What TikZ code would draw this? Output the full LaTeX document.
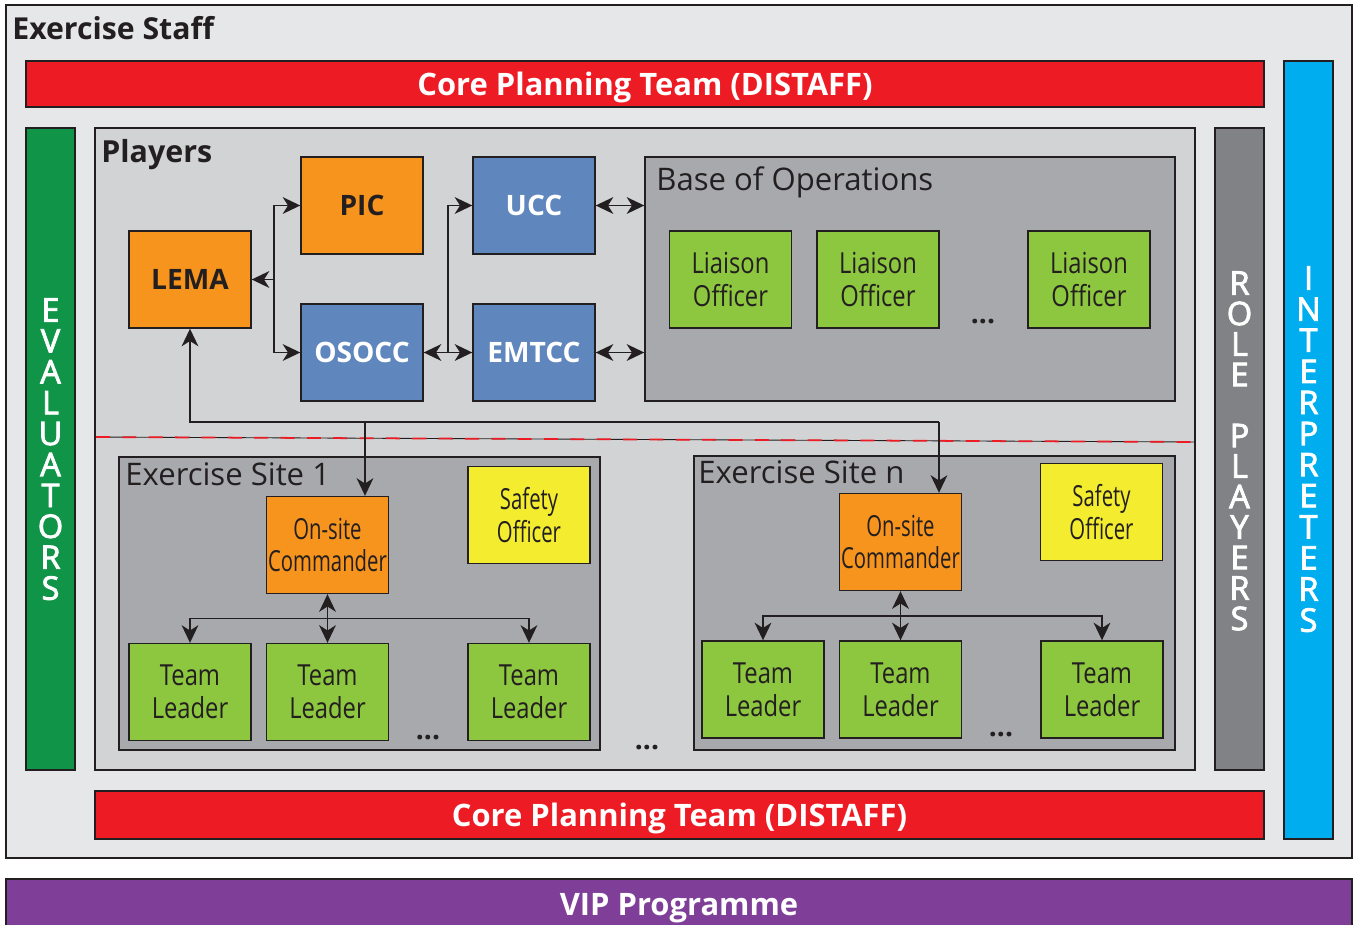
\documentclass[tikz,border=0pt]{standalone}
\usepackage{fontspec}
\setmainfont{Open Sans}
\newfontfamily\condfont[FakeStretch=0.82]{Open Sans}
\newfontfamily\narrowfont[FakeStretch=0.7]{Open Sans}
\newfontfamily\heavyfont[FakeBold=2.5]{Open Sans}
\usetikzlibrary{arrows.meta,fit}

\definecolor{ink}{HTML}{231F20}
\definecolor{staffgray}{HTML}{E6E7E8}
\definecolor{playersgray}{HTML}{D1D3D4}
\definecolor{sitegray}{HTML}{A7A9AC}
\definecolor{rolegray}{HTML}{808285}
\definecolor{corered}{HTML}{ED1C24}
\definecolor{evalgreen}{HTML}{109447}
\definecolor{interpcyan}{HTML}{00AEEF}
\definecolor{vippurple}{HTML}{7F3F98}
\definecolor{unitorange}{HTML}{F7941D}
\definecolor{unitblue}{HTML}{5F86BD}
\definecolor{unitlime}{HTML}{8DC63F}
\definecolor{safetyyellow}{HTML}{F3EC2F}

\begin{document}
\begin{tikzpicture}[x=0.02cm, y=-0.02cm,
    >={Stealth[length=10pt,width=9.5pt,inset=3pt]},
    boxline/.style={draw=ink, line width=0.8pt, inner sep=0pt},
    unitbox/.style={boxline, minimum width=2.44cm, minimum height=1.94cm, align=center},
    boldlbl/.style={font=\fontsize{16}{19}\selectfont\bfseries},
    condlbl/.style={font=\fontsize{16.5}{18.7}\selectfont\condfont, text=ink},
    cmdlbl/.style={font=\fontsize{16.5}{18.7}\selectfont\narrowfont, text=ink},
    barlbl/.style={anchor=base, inner sep=0pt, text=white, font=\fontsize{17.6}{20}\selectfont\bfseries},
    vletter/.style={text=white, inner sep=0pt, font=\fontsize{18.5}{20}\selectfont\heavyfont},
    grouptitle/.style={anchor=base west, inner sep=0pt, text=ink, font=\fontsize{17.7}{20}\selectfont},
    link/.style={draw=ink, line width=1pt},
    ellipsis/.style={inner sep=0pt, text=ink, font=\fontsize{16}{19}\selectfont\bfseries}]
  \useasboundingbox (0,0) rectangle (1357,924);

  % exercise staff frame
  \node[boxline, fill=staffgray, fit={(6,5) (1352,858)}] (staff) {};
  \node[grouptitle, font=\fontsize{17.2}{20}\selectfont\bfseries] (stafflbl) at (12,39) {Exercise Staff};

  \node[boxline, fill=corered, fit={(26,61) (1264,107)}] (coretop) {};
  \node[barlbl] (coretoplbl) at (645,95) {Core Planning Team (DISTAFF)};
  \node[boxline, fill=corered, fit={(95,791) (1264,839)}] (corebot) {};
  \node[barlbl] (corebotlbl) at (679.5,826) {Core Planning Team (DISTAFF)};
  \node[boxline, fill=vippurple, fit={(6,879) (1352,930)}] (vip) {};
  \node[barlbl] (viplbl) at (679,915) {VIP Programme};

  % side columns
  \node[boxline, fill=evalgreen, fit={(26,128) (75,770)}] (eval) {};
  \foreach \c [count=\i] in {E,V,A,L,U,A,T,O,R,S}
    \node[vletter] (ev\i) at (50.5,{310+30.9*(\i-1)}) {\c};

  \node[boxline, fill=rolegray, fit={(1215,128) (1264,770)}] (role) {};
  \foreach \c [count=\i] in {R,O,L,E,,P,L,A,Y,E,R,S}
    \node[vletter] (rp\i) at (1239.5,{283+30.5*(\i-1)}) {\c};

  \node[boxline, fill=interpcyan, fit={(1284,61) (1333,839)}] (interp) {};
  \foreach \c [count=\i] in {I,N,T,E,R,P,R,E,T,E,R,S}
    \node[vletter] (in\i) at (1308.5,{278+31.1*(\i-1)}) {\c};

  % players
  \node[boxline, fill=playersgray, fit={(95,128) (1195,770)}] (players) {};
  \node[grouptitle, font=\fontsize{17.3}{20}\selectfont\bfseries] (playerslbl) at (101,162) {Players};

  \node[unitbox, fill=unitorange, boldlbl, text=ink] (lema) at (190,279.5) {LEMA};
  \node[unitbox, fill=unitorange, boldlbl, text=ink] (pic) at (362,205.5) {PIC};
  \node[unitbox, fill=unitblue, boldlbl, text=white] (osocc) at (362,352.5) {OSOCC};
  \node[unitbox, fill=unitblue, boldlbl, text=white] (ucc) at (534,205.5) {UCC};
  \node[unitbox, fill=unitblue, boldlbl, text=white] (emtcc) at (534,352.5) {EMTCC};

  \node[boxline, fill=sitegray, fit={(645,157) (1175,401)}] (base) {};
  \node[grouptitle] (baselbl) at (656,190) {Base of Operations};
  \node[unitbox, fill=unitlime, condlbl] (lo1) at (730.5,279.5) {Liaison\\Officer};
  \node[unitbox, fill=unitlime, condlbl] (lo2) at (878,279.5) {Liaison\\Officer};
  \node[unitbox, fill=unitlime, condlbl] (lo3) at (1089,279.5) {Liaison\\Officer};
  \node[ellipsis] (lomore) at (983,322) {...};

  \coordinate (jl) at (274,279.5);
  \draw[link,->] (jl) -- (lema);
  \draw[link,->] (jl) |- (pic);
  \draw[link,->] (jl) |- (osocc);
  \draw[link,<->] (osocc) -- (emtcc);
  \coordinate (ju) at (448,352.5);
  \draw[link,->] (ju) |- (ucc);
  \draw[link,<->] (ucc.east) -- (ucc.east -| base.west);
  \draw[link,<->] (emtcc.east) -- (emtcc.east -| base.west);

  % field / base split
  \coordinate (d1) at (96,437);
  \coordinate (d2) at (1195,442);
  \draw[ink, line width=0.5pt] (d1) -- (d2);
  \draw[corered, line width=1pt, dash pattern=on 8pt off 7pt] (d1) -- (d2);

  % exercise site 1
  \node[boxline, fill=sitegray, fit={(119,457) (600,750)}] (site1) {};
  \node[grouptitle] (site1lbl) at (125,485) {Exercise Site 1};
  \node[unitbox, fill=unitorange, cmdlbl] (cmd1) at (327.5,545) {On-site\\Commander};
  \node[unitbox, fill=safetyyellow, cmdlbl] (safe1) at (529,515) {Safety\\Officer};
  \node[unitbox, fill=unitlime, condlbl] (tl11) at (190,692) {Team\\Leader};
  \node[unitbox, fill=unitlime, condlbl] (tl12) at (327.5,692) {Team\\Leader};
  \node[unitbox, fill=unitlime, condlbl] (tl13) at (529,692) {Team\\Leader};
  \node[ellipsis] (tl1more) at (428,738) {...};

  \draw[link,<->] (cmd1) -- (tl12);
  \coordinate (j1) at (327.5,618.5);
  \draw[link,->] (j1) -| (tl11);
  \draw[link,->] (j1) -| (tl13);

  \node[ellipsis] (sitemore) at (647,748) {...};

  % exercise site n
  \node[boxline, fill=sitegray, fit={(694,456) (1175,750)}] (siten) {};
  \node[grouptitle] (sitenlbl) at (698,483) {Exercise Site n};
  \node[unitbox, fill=unitorange, cmdlbl] (cmdn) at (900.5,542) {On-site\\Commander};
  \node[unitbox, fill=safetyyellow, cmdlbl] (safen) at (1101.5,512) {Safety\\Officer};
  \node[unitbox, fill=unitlime, condlbl] (tln1) at (763,689.5) {Team\\Leader};
  \node[unitbox, fill=unitlime, condlbl] (tln2) at (900.5,689.5) {Team\\Leader};
  \node[unitbox, fill=unitlime, condlbl] (tln3) at (1102,689.5) {Team\\Leader};
  \node[ellipsis] (tlnmore) at (1001,735) {...};

  \draw[link,<->] (cmdn) -- (tln2);
  \coordinate (jn) at (900.5,616);
  \draw[link,->] (jn) -| (tln1);
  \draw[link,->] (jn) -| (tln3);

  % reporting lines
  \coordinate (k1) at (365,422);
  \coordinate (kn) at (939,422);
  \draw[link,->] (kn) -- (kn -| lema) -- (lema);
  \draw[link,->] (k1) -- (k1 |- cmd1.north);
  \draw[link,->] (kn) -- (kn |- cmdn.north);
\end{tikzpicture}
\end{document}
